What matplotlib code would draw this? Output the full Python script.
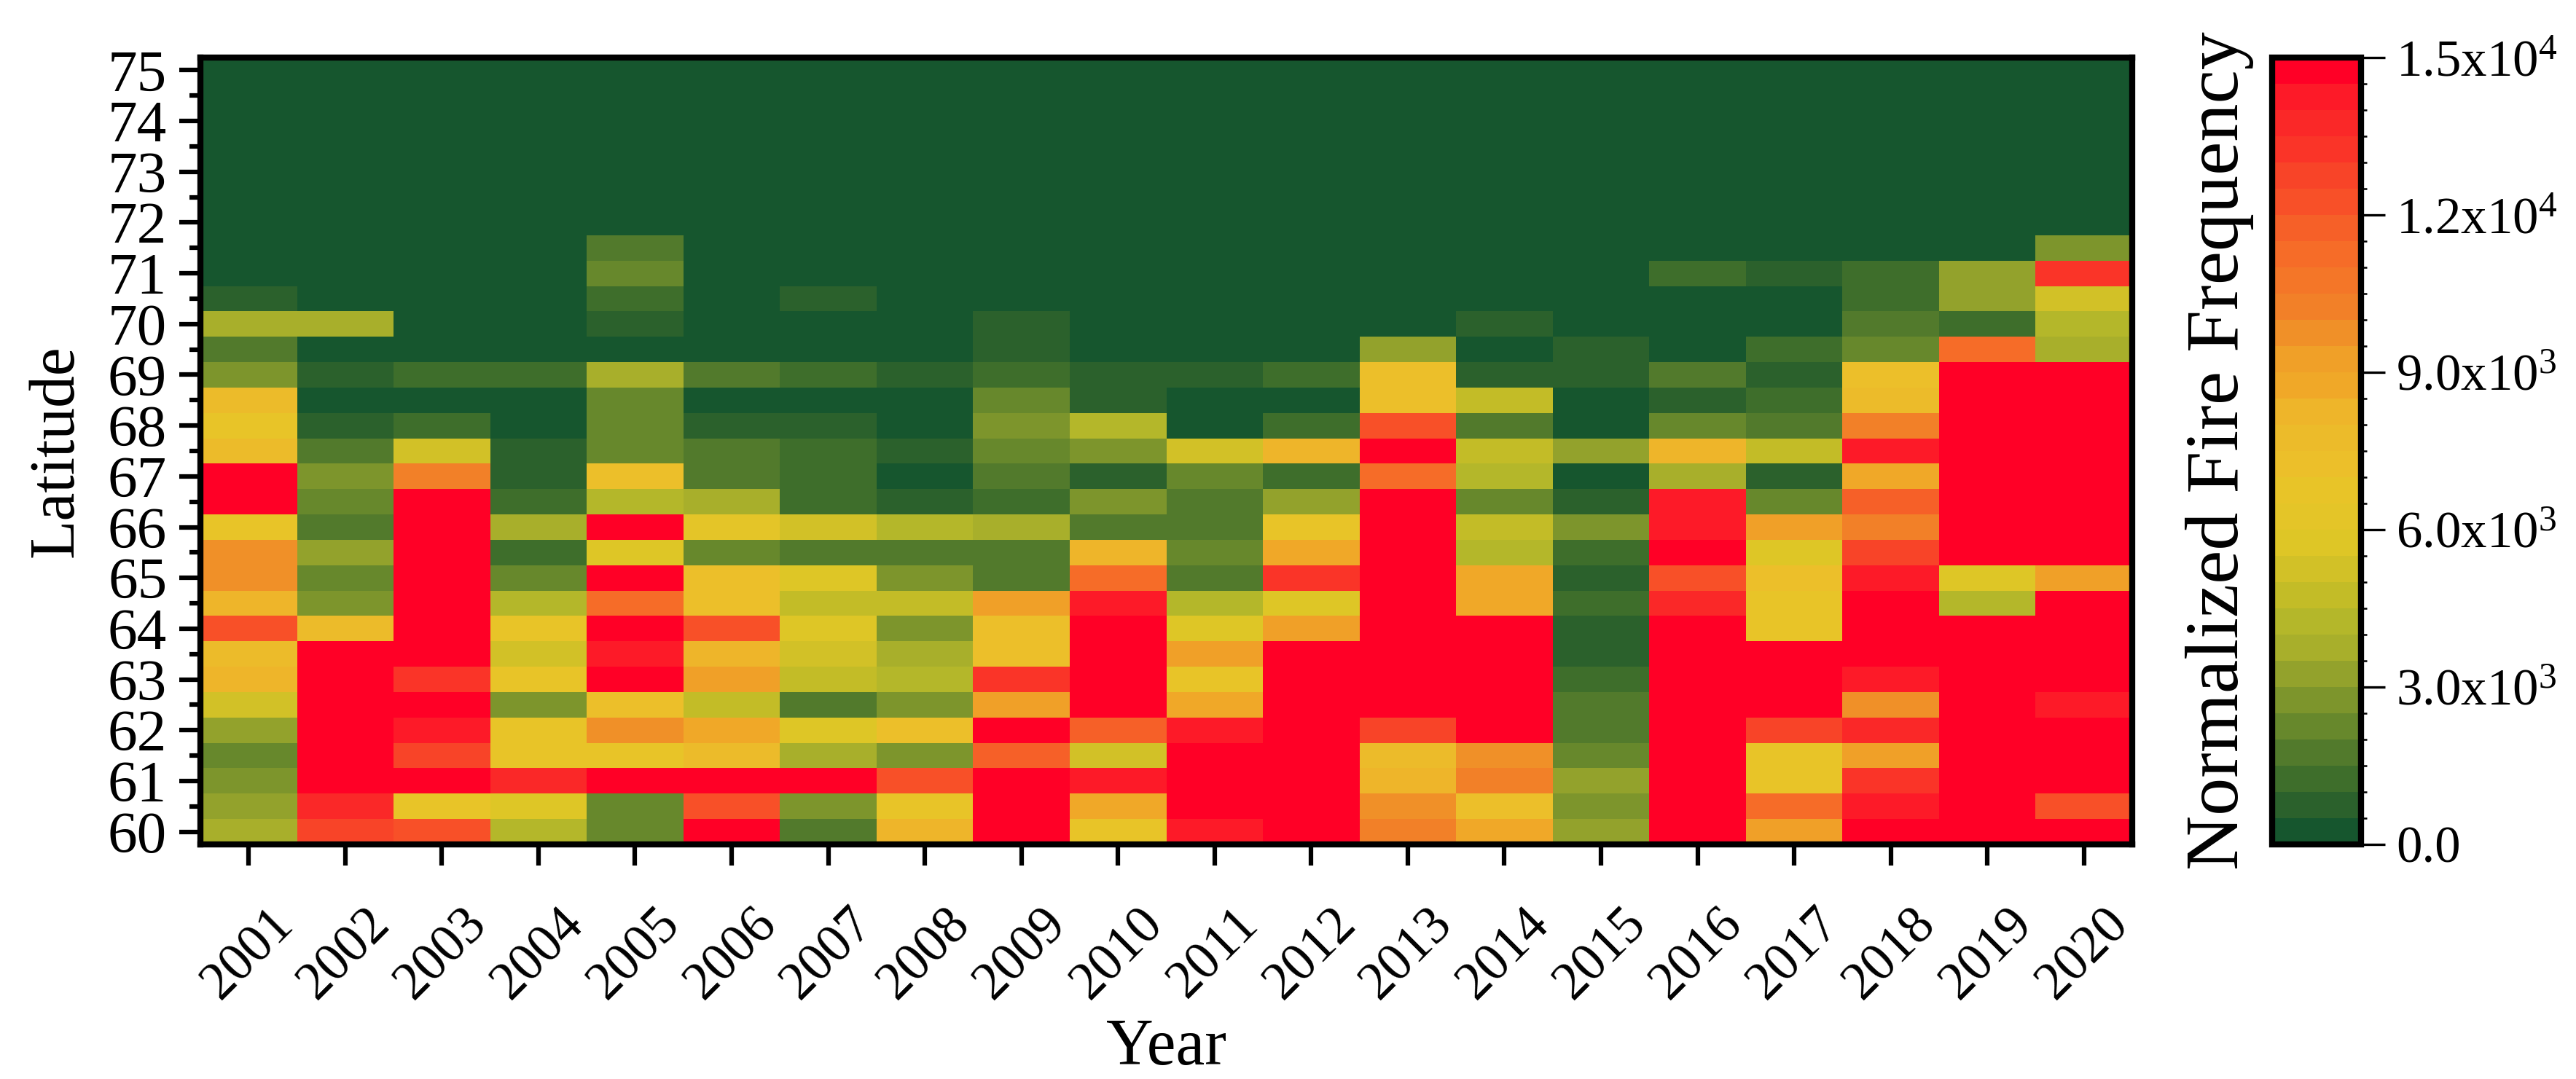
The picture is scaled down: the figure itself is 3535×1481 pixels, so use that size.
import numpy as np
import matplotlib.pyplot as plt
from matplotlib.colors import ListedColormap, BoundaryNorm

plt.rcParams['font.family'] = ['Liberation Serif', 'DejaVu Serif']
plt.rcParams['mathtext.fontset'] = 'custom'
plt.rcParams['mathtext.rm'] = 'Liberation Serif'
plt.rcParams['mathtext.default'] = 'regular'

years = list(range(2001, 2021))
lats = np.arange(60, 75.01, 0.5)

# fire frequency per year, from 60N upward to 72N (north of 72N everything is 0)
f2001 = [3750, 3250, 2750, 2250, 3250, 5250, 8250, 7500, 12250, 8000, 9750, 9750, 6500,
         15000, 15000, 7500, 6500, 7500, 2750, 1750, 3750, 750, 0, 0, 0]
f2002 = [12750, 13500, 15000, 15000, 15000, 15000, 15000, 15000, 7500, 2750, 2250, 3250, 1750,
         2250, 2750, 1750, 750, 0, 750, 0, 3750, 0, 0, 0, 0]
f2003 = [12250, 6500, 15000, 12750, 14250, 15000, 13250, 15000, 15000, 15000, 15000, 15000, 15000,
         15000, 10250, 5250, 1250, 0, 1250, 0, 0, 0, 0, 0, 0]
f2004 = [4250, 5750, 13750, 6500, 6500, 2750, 6500, 5250, 6500, 4250, 2250, 1250, 3750,
         1250, 750, 750, 0, 0, 1250, 0, 0, 0, 0, 0, 0]
f2005 = [2250, 2250, 15000, 6750, 9750, 7250, 15000, 14400, 15000, 11250, 15000, 5750, 15000,
         4250, 7250, 2250, 2250, 2250, 3750, 0, 750, 1250, 2250, 1750, 0]
f2006 = [15000, 12250, 15000, 7750, 8750, 4750, 9000, 8000, 12250, 7000, 7000, 2250, 6250,
         3750, 1750, 1750, 750, 0, 1750, 0, 0, 0, 0, 0, 0]
f2007 = [1750, 2750, 15000, 3750, 5750, 1750, 4750, 5250, 5750, 4750, 5750, 1750, 5250,
         1250, 1250, 1250, 750, 0, 1250, 0, 0, 750, 0, 0, 0]
f2008 = [8000, 6500, 12250, 2750, 7250, 2750, 4250, 3750, 2750, 4750, 2750, 1750, 4250,
         750, 0, 750, 0, 0, 750, 0, 0, 0, 0, 0, 0]
f2009 = [15000, 15000, 15000, 11750, 15000, 9000, 13000, 7000, 7000, 9000, 1750, 1750, 3750,
         1250, 1750, 2250, 2750, 2250, 1250, 750, 750, 0, 0, 0, 0]
f2010 = [6500, 8750, 14250, 5250, 11750, 15000, 15000, 15000, 15000, 14250, 11250, 8250, 1750,
         2750, 750, 2750, 4250, 750, 750, 0, 0, 0, 0, 0, 0]
f2011 = [14250, 15000, 15000, 15000, 14400, 8750, 6750, 9000, 5750, 4250, 1750, 2250, 1750,
         1750, 2250, 5250, 0, 0, 750, 0, 0, 0, 0, 0, 0]
f2012 = [15000, 15000, 15000, 15000, 15000, 15000, 15000, 15000, 9000, 5750, 13250, 8750, 6750,
         3250, 1250, 8000, 1250, 0, 1250, 0, 0, 0, 0, 0, 0]
f2013 = [10250, 9750, 8000, 7500, 12750, 15000, 15000, 15000, 15000, 15000, 15000, 15000, 15000,
         15000, 11250, 15000, 12250, 7000, 7000, 3250, 0, 0, 0, 0, 0]
f2014 = [8750, 7250, 10250, 9750, 15000, 15000, 15000, 15000, 15000, 8750, 8750, 4250, 4750,
         2250, 4250, 4750, 1750, 4750, 750, 0, 750, 0, 0, 0, 0]
f2015 = [3250, 2750, 3250, 2250, 1750, 1750, 1250, 750, 750, 1250, 750, 1250, 2750,
         750, 0, 3250, 0, 0, 750, 750, 0, 0, 0, 0, 0]
f2016 = [15000, 15000, 15000, 15000, 15000, 15000, 15000, 15000, 15000, 13750, 12250, 15000, 14250,
         14400, 3750, 8000, 2250, 750, 1750, 0, 0, 0, 1250, 0, 0]
f2017 = [9000, 11250, 6750, 6750, 12750, 15000, 15000, 15000, 6750, 6750, 7250, 5750, 9000,
         2250, 750, 4750, 1750, 1250, 750, 1250, 0, 0, 750, 0, 0]
f2018 = [15000, 14400, 13250, 9000, 13750, 9750, 14400, 15000, 15000, 15000, 14250, 12750, 10250,
         11750, 8750, 14250, 10250, 7500, 7000, 2250, 1750, 1250, 1250, 0, 0]
f2019 = [15000, 15000, 15000, 15000, 15000, 15000, 15000, 15000, 15000, 4250, 5750, 15000, 15000,
         15000, 15000, 15000, 15000, 15000, 15000, 11250, 1250, 3250, 3000, 0, 0]
f2020 = [15000, 12250, 15000, 15000, 15000, 14400, 15000, 15000, 15000, 15000, 9000, 15000, 15000,
         15000, 15000, 15000, 15000, 15000, 15000, 3750, 4250, 5250, 13250, 2750, 0]

columns = [f2001, f2002, f2003, f2004, f2005, f2006, f2007, f2008, f2009, f2010,
           f2011, f2012, f2013, f2014, f2015, f2016, f2017, f2018, f2019, f2020]

Z = np.zeros((len(lats), len(years)))
for j, col in enumerate(columns):
    Z[:len(col), j] = col

# 30 colour steps of 500, dark green -> yellow -> red
level_colors = ['#16562E', '#2B612C', '#3E6E2B', '#527A2C', '#67882C', '#7D952C',
                '#93A22C', '#A8AF2B', '#B4B72A', '#C3BC27', '#D2C127', '#DEC626',
                '#E4C528', '#E8C428', '#ECBF2A', '#ECBB2A', '#EEB52A', '#F0A828',
                '#F0A028', '#F09028', '#F28028', '#F47628', '#F66C28', '#F66028',
                '#F85028', '#F84428', '#FA3428', '#FA2828', '#FD1A28', '#FF0026']
cmap = ListedColormap(level_colors).with_extremes(over='#FF0026')
bounds = np.arange(0, 15001, 500)
norm = BoundaryNorm(bounds, cmap.N)

fig = plt.figure(figsize=(3535 / 300, 1481 / 300), dpi=300)
ax = fig.add_axes([275 / 3535, 1 - 1159 / 1481, (2926 - 275) / 3535, (1159 - 79) / 1481])
cax = fig.add_axes([3118 / 3535, 1 - 1159 / 1481, 122 / 3535, (1159 - 79) / 1481])

x_edges = np.arange(2000.5, 2021, 1)
y_edges = np.arange(59.75, 75.3, 0.5)
mesh = ax.pcolormesh(x_edges, y_edges, Z, cmap=cmap, norm=norm)

ax.set_xticks(years)
ax.set_xticklabels([str(y) for y in years], rotation=45)
ax.set_yticks(range(60, 76))
ax.set_yticks(np.arange(60.5, 75, 1), minor=True)
ax.set_xlim(2000.5, 2020.5)
ax.set_ylim(59.75, 75.25)
ax.tick_params(axis='both', direction='out', length=7, width=1.5)
ax.tick_params(axis='x', pad=11, labelsize=17.5)
ax.tick_params(axis='y', pad=4, labelsize=19.5)
ax.tick_params(which='minor', length=3.5, width=1.5)
for s in ax.spines.values():
    s.set_linewidth(2)

ax.set_xlabel('Year', fontsize=21.5, labelpad=3)
ax.set_ylabel('Latitude', fontsize=21, labelpad=7)

cbar = fig.colorbar(mesh, cax=cax, ticks=[0, 3000, 6000, 9000, 12000, 15000])
cbar.ax.set_yticklabels(['0.0', '3.0x10$^{3}$', '6.0x10$^{3}$', '9.0x10$^{3}$',
                         '1.2x10$^{4}$', '1.5x10$^{4}$'])
cbar.ax.tick_params(length=8, width=0.8, labelsize=17, direction='out')
cbar.outline.set_linewidth(2)
cbar.set_label('Normalized Fire Frequency', fontsize=25, labelpad=6)
cbar.ax.yaxis.set_label_position('left')

fig.savefig('out.png', dpi=300)
